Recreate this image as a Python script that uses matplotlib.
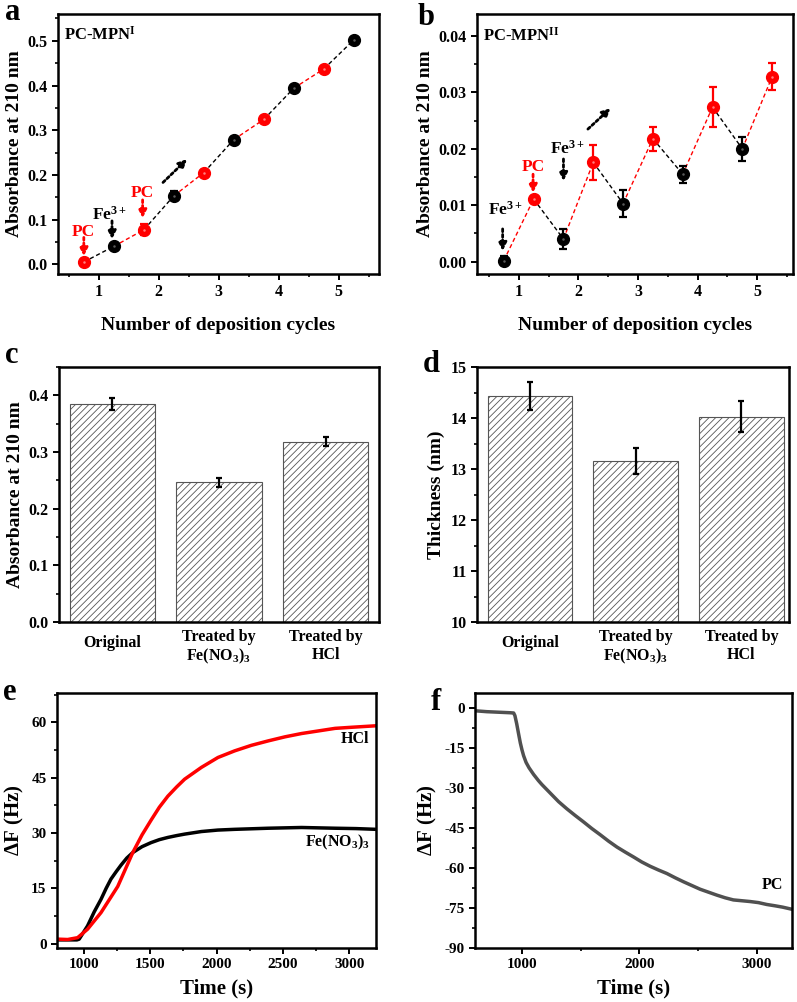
import numpy as np
import matplotlib.pyplot as plt
from matplotlib.ticker import AutoMinorLocator, MultipleLocator
from matplotlib.transforms import ScaledTranslation

plt.rcParams['font.family'] = 'Liberation Serif'
plt.rcParams['font.weight'] = 'bold'
plt.rcParams['axes.labelweight'] = 'bold'
plt.rcParams['axes.unicode_minus'] = False
plt.rcParams['mathtext.fontset'] = 'custom'
plt.rcParams['mathtext.rm'] = 'Liberation Serif:bold'
plt.rcParams['mathtext.it'] = 'Liberation Serif:bold'
plt.rcParams['mathtext.bf'] = 'Liberation Serif:bold'
plt.rcParams['hatch.linewidth'] = 0.6

# ---- dados ----
# painel a (PC-MPN I)
ciclos_a = [0.75, 1.25, 1.75, 2.25, 2.75, 3.25, 3.75, 4.25, 4.75, 5.25]
abs_a = [0.005, 0.040, 0.077, 0.153, 0.205, 0.279, 0.324, 0.394, 0.437, 0.502]
erro_a = [0.005, 0.006, 0.012, 0.010, 0.005, 0.006, 0.005, 0.006, 0.005, 0.004]
tipo_a = ['PC', 'Fe', 'PC', 'Fe', 'PC', 'Fe', 'PC', 'Fe', 'PC', 'Fe']

# painel b (PC-MPN II)
ciclos_b = [0.75, 1.25, 1.75, 2.25, 2.75, 3.25, 3.75, 4.25, 4.75, 5.25]
abs_b = [0.0002, 0.0111, 0.0040, 0.0176, 0.0103, 0.0218, 0.0155, 0.0274, 0.0200, 0.0328]
erro_b = [0.0008, 0.0005, 0.0017, 0.0031, 0.0024, 0.0021, 0.0015, 0.0035, 0.0021, 0.0024]
tipo_b = ['Fe', 'PC', 'Fe', 'PC', 'Fe', 'PC', 'Fe', 'PC', 'Fe', 'PC']

# paineis c e d
tratamentos = ['Original', 'Treated by\nFe(NO$_3$)$_3$', 'Treated by\nHCl']
abs_c = [0.385, 0.247, 0.318]
erro_c = [0.010, 0.008, 0.008]
espessura_d = [14.43, 13.16, 14.03]
erro_d = [0.28, 0.25, 0.30]

# painel e (QCM)
tempo_hcl = [810, 880, 955, 1030, 1131, 1257, 1370, 1440, 1508, 1570, 1634, 1700, 1760,
             1886, 2011, 2137, 2263, 2389, 2515, 2640, 2766, 2892, 3018, 3200]
df_hcl = [1.2, 1.1, 1.6, 3.9, 8.4, 15.5, 24.7, 29.5, 33.5, 37.0, 40.0, 42.5, 44.6,
          47.8, 50.5, 52.3, 53.8, 55.0, 56.1, 57.0, 57.7, 58.4, 58.7, 59.1]
tempo_fe = [810, 880, 950, 967, 1030, 1080, 1131, 1170, 1206, 1245, 1282, 1325, 1370,
            1440, 1508, 1570, 1634, 1700, 1760, 1886, 2010, 2137, 2389, 2640, 2892, 3050, 3200]
df_fe = [1.0, 1.0, 1.0, 1.2, 4.8, 8.6, 12.0, 15.0, 17.5, 19.5, 21.3, 23.2, 24.7,
         26.3, 27.4, 28.2, 28.8, 29.3, 29.7, 30.4, 30.8, 31.0, 31.3, 31.5, 31.3, 31.2, 31.0]

# painel f (QCM, PC)
tempo_pc = [611, 700, 800, 900, 929, 940, 955, 972, 986, 1000, 1014, 1035, 1060, 1099,
            1140, 1170, 1241, 1312, 1383,
            1454, 1525, 1596, 1667, 1738, 1809, 1880, 1950, 2021, 2092, 2163, 2234,
            2305, 2376, 2447, 2518, 2589, 2660, 2731, 2801, 2872, 2943, 3014, 3085,
            3156, 3220, 3290]
df_pc = [-1.2, -1.5, -1.7, -1.9, -2.0, -3.0, -6.0, -10.0, -13.2, -15.8, -18.0, -20.5, -22.5,
         -25.0, -27.3, -28.8, -32.0,
         -35.2, -37.9, -40.4, -42.8, -45.3, -47.6, -50.0, -52.2, -54.1, -55.9, -57.8,
         -59.4, -60.8, -62.1, -63.7, -65.2, -66.6, -68.0, -69.1, -70.2, -71.2, -72.0,
         -72.3, -72.6, -73.0, -73.7, -74.2, -74.7, -75.4]


def estilo(ax, fs=11.5):
    for s in ax.spines.values():
        s.set_linewidth(1.8)
    ax.tick_params(which='major', direction='out', width=1.4, length=4, labelsize=fs)
    ax.tick_params(which='minor', direction='out', width=1.2, length=2.5)


def seta(ax, xy_ini, xy_fim, cor):
    ax.annotate('', xy=xy_fim, xytext=xy_ini,
                arrowprops=dict(arrowstyle='-|>', color=cor, lw=2, ls=(0, (1, 1)),
                                mutation_scale=12, shrinkA=0, shrinkB=0))


def painel_ciclos(ax, x, y, err, tipo):
    cores = ['red' if t == 'PC' else 'black' for t in tipo]
    for i in range(1, len(x)):
        ax.plot([x[i - 1], x[i]], [y[i - 1], y[i]], color=cores[i], lw=1,
                ls=(0, (3, 2)), zorder=2)
    for xi, yi, ei, c in zip(x, y, err, cores):
        ax.errorbar(xi, yi, yerr=ei, fmt='o', color=c, ms=8.5, capsize=3,
                    elinewidth=1.6, capthick=1.6, zorder=3)
        luz = '#ff8080' if c == 'red' else '#5a5a5a'
        ax.plot(xi, yi, 'o', color=luz, ms=1.8, mew=0, zorder=4)
    ax.set_xlabel('Number of deposition cycles', fontsize=14, labelpad=12)
    ax.set_ylabel('Absorbance at 210 nm', fontsize=14, labelpad=3)
    ax.xaxis.set_major_locator(MultipleLocator(1))
    ax.xaxis.set_minor_locator(AutoMinorLocator(2))
    ax.yaxis.set_minor_locator(AutoMinorLocator(2))
    estilo(ax)


fig = plt.figure(figsize=(7.97, 10.02), dpi=100)

# ---- a ----
ax_a = fig.add_axes([0.0728, 0.7265, 0.4027, 0.2595])
painel_ciclos(ax_a, ciclos_a, abs_a, erro_a, tipo_a)
ax_a.set_xlim(0.32, 5.67)
ax_a.set_ylim(-0.022, 0.56)
ax_a.text(0.02, 0.92, r'PC-MPN$^{\mathrm{I}}$', transform=ax_a.transAxes, fontsize=12, va='center')
ax_a.text(0.75, 0.072, 'PC', color='red', fontsize=12.5, ha='center', va='center')
seta(ax_a, (0.75, 0.06), (0.75, 0.018), 'red')
ax_a.text(1.17, 0.111, r'Fe$^{3+}$', color='black', fontsize=12.5, ha='center', va='center')
seta(ax_a, (1.22, 0.097), (1.22, 0.056), 'black')
ax_a.text(1.73, 0.159, 'PC', color='red', fontsize=12.5, ha='center', va='center')
seta(ax_a, (1.73, 0.144), (1.73, 0.103), 'red')
seta(ax_a, (2.07, 0.183), (2.47, 0.235), 'black')

# ---- b ----
ax_b = fig.add_axes([0.5985, 0.7265, 0.3965, 0.2595])
painel_ciclos(ax_b, ciclos_b, abs_b, erro_b, tipo_b)
ax_b.set_xlim(0.3, 5.6)
ax_b.set_ylim(-0.0022, 0.0439)
ax_b.yaxis.set_major_locator(MultipleLocator(0.01))
ax_b.yaxis.set_major_formatter(plt.FormatStrFormatter('%.2f'))
ax_b.text(0.02, 0.915, r'PC-MPN$^{\mathrm{II}}$', transform=ax_b.transAxes, fontsize=12, va='center')
ax_b.text(0.78, 0.0092, r'Fe$^{3+}$', color='black', fontsize=12.5, ha='center', va='center')
seta(ax_b, (0.73, 0.0058), (0.73, 0.0019), 'black')
ax_b.text(1.24, 0.0168, 'PC', color='red', fontsize=12.5, ha='center', va='center')
seta(ax_b, (1.24, 0.0155), (1.24, 0.0122), 'red')
ax_b.text(1.81, 0.0201, r'Fe$^{3+}$', color='black', fontsize=12.5, ha='center', va='center')
seta(ax_b, (1.75, 0.0182), (1.75, 0.0143), 'black')
seta(ax_b, (2.16, 0.0235), (2.54, 0.0272), 'black')

# ---- c ----
pos = np.arange(1, 4)
ax_c = fig.add_axes([0.074, 0.3792, 0.4015, 0.2545])
ax_c.bar(pos, abs_c, width=0.8, color='white', edgecolor='#555555', lw=0.8, hatch='/////')
ax_c.errorbar(pos, abs_c, yerr=erro_c, fmt='none', ecolor='black', elinewidth=1.6,
              capsize=2.5, capthick=1.6)
ax_c.set_xlim(0.5, 3.5)
ax_c.set_ylim(0, 0.45)
ax_c.yaxis.set_major_locator(MultipleLocator(0.1))
ax_c.yaxis.set_minor_locator(AutoMinorLocator(2))
ax_c.set_ylabel('Absorbance at 210 nm', fontsize=14, labelpad=3)
ax_c.set_xticks(pos)
ax_c.set_xticklabels(tratamentos, linespacing=1.15)
estilo(ax_c)
ax_c.tick_params(axis='x', length=0, pad=5)

# ---- d ----
ax_d = fig.add_axes([0.5985, 0.3792, 0.3915, 0.2545])
ax_d.bar(pos, espessura_d, width=0.8, bottom=0, color='white', edgecolor='#555555', lw=0.8,
         hatch='/////')
ax_d.errorbar(pos, espessura_d, yerr=erro_d, fmt='none', ecolor='black', elinewidth=1.6,
              capsize=2.5, capthick=1.6)
ax_d.set_xlim(0.5, 3.45)
ax_d.set_ylim(10, 15)
ax_d.yaxis.set_major_locator(MultipleLocator(1))
ax_d.yaxis.set_minor_locator(AutoMinorLocator(2))
ax_d.set_ylabel('Thickness (nm)', fontsize=14, labelpad=4)
ax_d.set_xticks(pos)
ax_d.set_xticklabels(tratamentos, linespacing=1.15)
estilo(ax_d)
ax_d.tick_params(axis='x', length=0, pad=5)

for ax in (ax_c, ax_d):
    lbl = ax.get_xticklabels()[0]
    lbl.set_transform(lbl.get_transform() + ScaledTranslation(0, -4 / 72, fig.dpi_scale_trans))

# ---- e ----
ax_e = fig.add_axes([0.0715, 0.0539, 0.4003, 0.2545])
ax_e.plot(tempo_fe, df_fe, color='black', lw=2.5)
ax_e.plot(tempo_hcl, df_hcl, color='red', lw=2.5)
ax_e.set_xlim(800, 3200)
ax_e.set_ylim(-1.2, 68)
ax_e.xaxis.set_major_locator(MultipleLocator(500))
ax_e.xaxis.set_minor_locator(AutoMinorLocator(2))
ax_e.yaxis.set_major_locator(MultipleLocator(15))
ax_e.yaxis.set_minor_locator(AutoMinorLocator(2))
ax_e.set_xlabel('Time (s)', fontsize=15, labelpad=5)
ax_e.set_ylabel(r'$\Delta$F (Hz)', fontsize=15, labelpad=4)
ax_e.text(3040, 55.5, 'HCl', fontsize=11.5, ha='center', va='center')
ax_e.text(2910, 27.5, 'Fe(NO$_3$)$_3$', fontsize=11.5, ha='center', va='center')
estilo(ax_e, fs=11)

# ---- f ----
ax_f = fig.add_axes([0.596, 0.0539, 0.3977, 0.2545])
ax_f.plot(tempo_pc, df_pc, color='#505050', lw=2.5)
ax_f.set_xlim(600, 3300)
ax_f.set_ylim(-90, 5.5)
ax_f.xaxis.set_major_locator(MultipleLocator(1000))
ax_f.xaxis.set_minor_locator(AutoMinorLocator(2))
ax_f.yaxis.set_major_locator(MultipleLocator(15))
ax_f.yaxis.set_minor_locator(AutoMinorLocator(2))
ax_f.set_xlabel('Time (s)', fontsize=15, labelpad=5)
ax_f.set_ylabel(r'$\Delta$F (Hz)', fontsize=15, labelpad=4)
ax_f.text(3130, -66.5, 'PC', fontsize=11.5, ha='center', va='center')
estilo(ax_f, fs=11)

# letras dos paineis
for letra, x, y in [('a', 0.006, 0.980), ('b', 0.524, 0.975), ('c', 0.006, 0.638),
                    ('d', 0.531, 0.629), ('e', 0.004, 0.301), ('f', 0.540, 0.291)]:
    fig.text(x, y, letra, fontsize=22, fontweight='bold', va='baseline')

fig.savefig('out.png', dpi=100)
